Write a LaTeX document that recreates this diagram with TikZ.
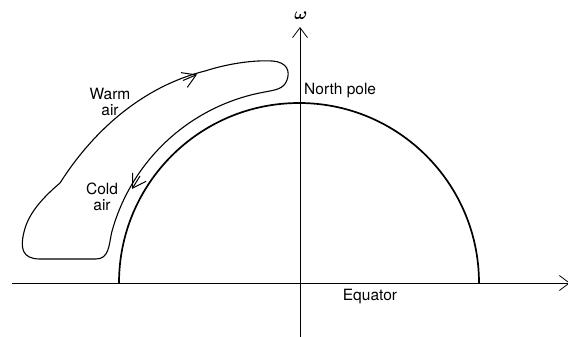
\documentclass[tikz,border=0pt]{standalone}
\usepackage{amsmath}
\usepackage{fontspec}
\setmainfont{TeX Gyre Heros}
\usetikzlibrary{arrows.meta}
\begin{document}
\begin{tikzpicture}[x=1pt,y=-1pt,
  axis/.style={line width=0.8pt,-{Straight Barb[length=10pt,width=15pt,line width=0.8pt]}},
  globe/.style={line width=1.7pt},
  loopline/.style={line width=1.1pt},
  barb/.style={line width=1pt,-{Straight Barb[length=13pt,width=16pt,line width=1pt]}},
  lbl/.style={font=\fontsize{15.5}{18}\selectfont,inner sep=0pt,align=center}]
\useasboundingbox (0,0) rectangle (568,337);
% axes
\coordinate (xa) at (12,283);
\coordinate (xb) at (570,283);
\coordinate (ya) at (300,337);
\coordinate (yb) at (300,27);
\draw[axis] (xa) -- (xb);
\draw[axis] (ya) -- (yb);
\node[inner sep=0pt] (om) at (301,16) {\fontsize{16}{18}\selectfont$\boldsymbol{\omega}$};
% globe
\coordinate (gl) at (119,283);
\draw[globe] (gl) arc[start angle=180,end angle=360,radius=180];
% circulation loop
\draw[loopline] (265.3,91.9) arc[start angle=260,end angle=195,radius=194]
  .. controls (109,245) and (109,259) .. (96,259)
  -- (40,259)
  .. controls (22,259) and (20,248) .. (24,232)
  .. controls (28,215) and (40,200) .. (60,183)
  .. controls (95,128) and (145,86) .. (205,71)
  .. controls (230,63) and (255,60) .. (272,61)
  .. controls (288,62) and (290,72) .. (287,80)
  .. controls (284,89) and (275,90) .. (265.3,91.9);
\coordinate (w1) at (183,80.5);
\coordinate (w2) at (197,74.5);
\draw[barb] (w1) -- (w2);
\coordinate (c1) at (140,176);
\coordinate (c2) at (132,189);
\draw[barb] (c1) -- (c2);
% labels
\node[lbl] (warm) at (110,102) {Warm\\[-2pt]air};
\node[lbl] (cold) at (102,197) {Cold\\[-2pt]air};
\node[lbl,anchor=west] (np) at (304,91) {North pole};
\node[lbl] (eq) at (370,297) {Equator};
\end{tikzpicture}
\end{document}
